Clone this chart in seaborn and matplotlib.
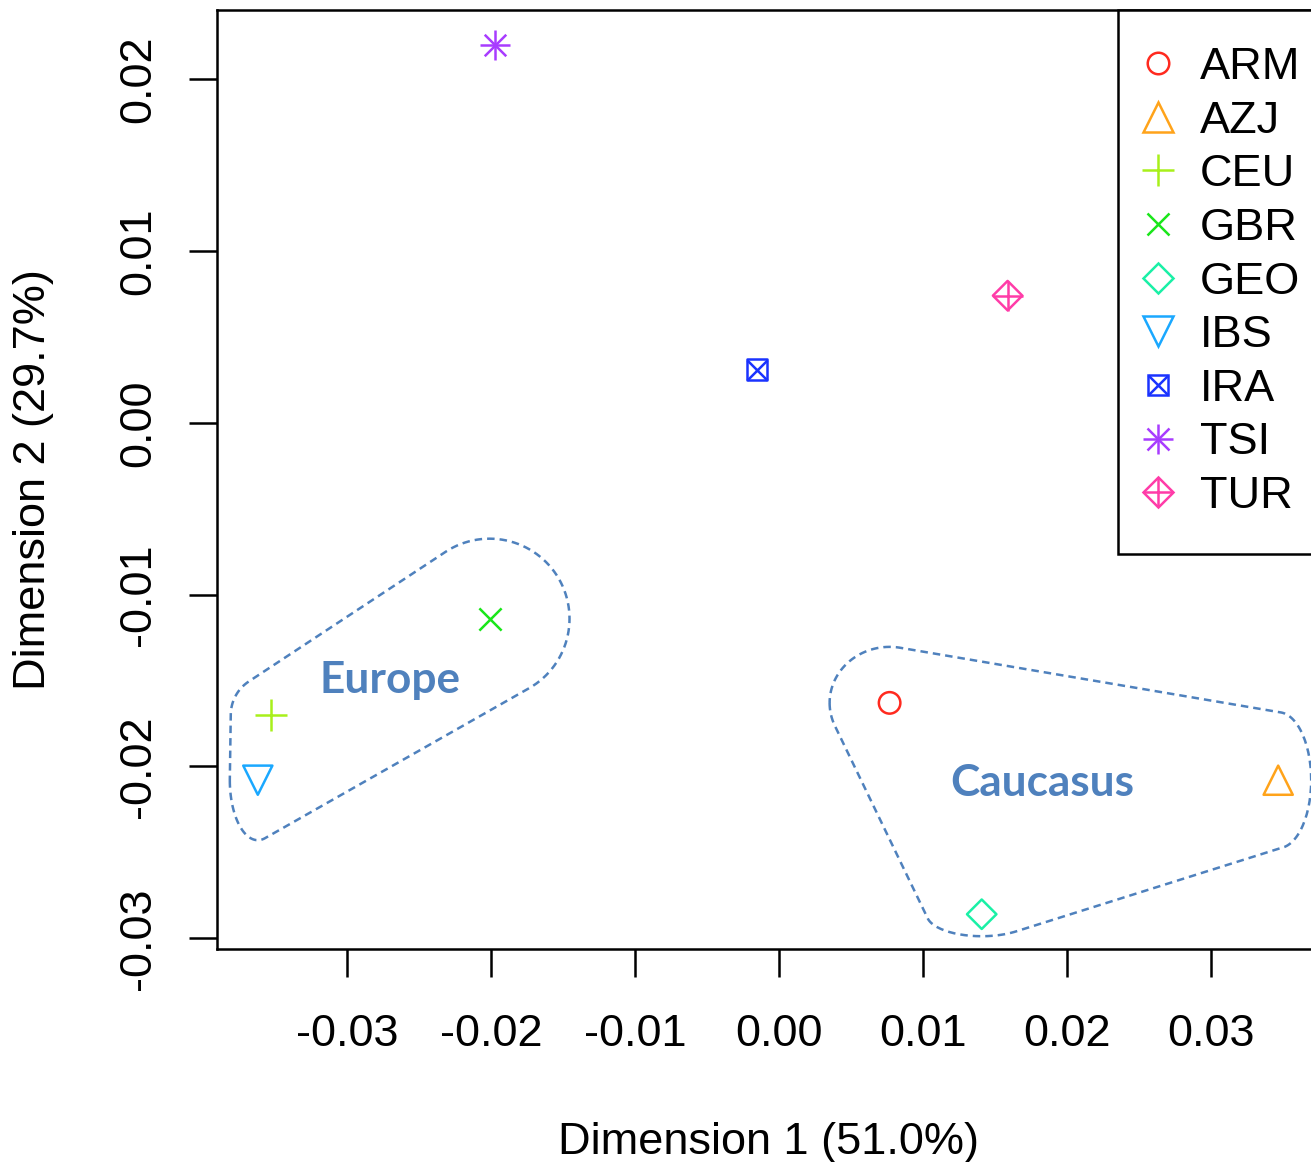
import numpy as np
import matplotlib
matplotlib.use("Agg")
import matplotlib.pyplot as plt
from matplotlib.lines import Line2D
import seaborn as sns

# MDS coordinates per population
populations = ["ARM", "AZJ", "CEU", "GBR", "GEO", "IBS", "IRA", "TSI", "TUR"]
dim1 = [0.0077, 0.0347, -0.0353, -0.0201, 0.0141, -0.0362, -0.0015, -0.0197, 0.0159]
dim2 = [-0.0163, -0.0208, -0.0170, -0.0114, -0.0286, -0.0208, 0.0031, 0.0220, 0.0074]
colors = ["#ff2a1f", "#ffa31a", "#a8f01a", "#1ae61a", "#1af0a6",
          "#1aa8ff", "#1a33ff", "#a83cff", "#ff3ca8"]

europe = ["CEU", "GBR", "IBS"]
caucasus = ["ARM", "AZJ", "GEO"]

# R pch 1..9 rebuilt from matplotlib markers (marker, size in pt)
glyphs = {
    "ARM": [("o", 15.5)],
    "AZJ": [("^", 21)],
    "CEU": [("+", 23)],
    "GBR": [("x", 16)],
    "GEO": [("D", 15)],
    "IBS": [("v", 21)],
    "IRA": [("s", 14.5), ("x", 14.5)],
    "TSI": [("+", 22), ("x", 15.5)],
    "TUR": [("D", 15), ("+", 21)],
}
line_art = {"+", "x"}

sns.set_style("white")
plt.rcParams["font.family"] = ["Liberation Sans", "DejaVu Sans"]
plt.rcParams["text.color"] = "black"
plt.rcParams["axes.labelcolor"] = "black"
FS = 32.5
LW = 1.8
hull_col = "#4f81bd"

W, H = 1311, 1162
fig = plt.figure(figsize=(W / 100, H / 100), dpi=100)
ax = fig.add_axes([217 / W, 213 / H, (1319 - 217) / W, (1152 - 213) / H])

for pop, x, y, c in zip(populations, dim1, dim2, colors):
    for m, ms in glyphs[pop]:
        if m in line_art:
            sns.scatterplot(x=[x], y=[y], marker=m, s=ms ** 2, color=c,
                            linewidth=LW, ax=ax, zorder=3)
        else:
            sns.scatterplot(x=[x], y=[y], marker=m, s=ms ** 2, color=c,
                            facecolor="none", edgecolor=c, linewidth=LW,
                            ax=ax, zorder=3)

# R-style 4% axis padding
xr = max(dim1) - min(dim1)
yr = max(dim2) - min(dim2)
ax.set_xlim(min(dim1) - 0.04 * xr, max(dim1) + 0.04 * xr)
ax.set_ylim(min(dim2) - 0.04 * yr, max(dim2) + 0.04 * yr)
ax.set_xticks([-0.03, -0.02, -0.01, 0.0, 0.01, 0.02, 0.03])
ax.set_yticks([-0.03, -0.02, -0.01, 0.0, 0.01, 0.02])
ax.set_xticklabels(["-0.03", "-0.02", "-0.01", "0.00", "0.01", "0.02", "0.03"])
ax.set_yticklabels(["-0.03", "-0.02", "-0.01", "0.00", "0.01", "0.02"])
ax.tick_params(axis="both", direction="out", length=20, width=LW,
               labelsize=FS, color="black", labelcolor="black",
               bottom=True, left=True, top=False, right=False)
ax.tick_params(axis="x", pad=27)
ax.tick_params(axis="y", pad=21.5, labelrotation=90)
for lab in ax.get_yticklabels():
    lab.set_va("center")
for sp in ax.spines.values():
    sp.set_visible(True)
    sp.set_color("black")
    sp.set_linewidth(LW)

ax.set_xlabel("Dimension 1 (51.0%)", fontsize=FS, color="black")
ax.set_ylabel("Dimension 2 (29.7%)", fontsize=FS, color="black")
ax.xaxis.set_label_coords(0.5, -0.184)
ax.yaxis.set_label_coords(-0.148, 0.5)


def hull_outline(names, radii, n=120):
    # rounded convex hull: ellipse (rx, ry in px) around each point
    idx = [populations.index(p) for p in names]
    pts = ax.transData.transform(np.column_stack([[dim1[i] for i in idx],
                                                  [dim2[i] for i in idx]]))
    t = np.linspace(0, 2 * np.pi, n, endpoint=False)
    ring = np.vstack([p + np.column_stack([rx * np.cos(t), ry * np.sin(t)])
                      for p, (rx, ry) in zip(pts, radii)])
    ring = sorted(map(tuple, ring))

    def cross(o, a, b):
        return (a[0] - o[0]) * (b[1] - o[1]) - (a[1] - o[1]) * (b[0] - o[0])

    lower, upper = [], []
    for p in ring:
        while len(lower) >= 2 and cross(lower[-2], lower[-1], p) <= 0:
            lower.pop()
        lower.append(p)
    for p in reversed(ring):
        while len(upper) >= 2 and cross(upper[-2], upper[-1], p) <= 0:
            upper.pop()
        upper.append(p)
    hull = lower[:-1] + upper[:-1]
    hull.append(hull[0])
    return ax.transData.inverted().transform(np.array(hull))


groups = [(europe, [(40, 40), (80, 80), (28, 60)]),
          (caucasus, [(60, 56), (33, 68), (55, 22)])]
for names, radii in groups:
    outline = hull_outline(names, radii)
    ax.plot(outline[:, 0], outline[:, 1], ls=(0, (3, 2)), lw=1.8,
            color=hull_col, zorder=2)

ax.text(-0.0270, -0.0157, "Europe", color=hull_col, fontsize=31.8,
        fontweight="bold", family="Lato", ha="center", va="baseline")
ax.text(0.0183, -0.0217, "Caucasus", color=hull_col, fontsize=31.8,
        fontweight="bold", family="Lato", ha="center", va="baseline")

handles = []
for pop, c in zip(populations, colors):
    parts = []
    for m, ms in glyphs[pop]:
        if m in line_art:
            parts.append(Line2D([], [], ls="none", marker=m, ms=ms, mew=LW, color=c))
        else:
            parts.append(Line2D([], [], ls="none", marker=m, ms=ms, mew=LW,
                                mec=c, mfc="none"))
    handles.append(tuple(parts))

leg = ax.legend(handles, populations, loc="upper left",
                bbox_to_anchor=((1118 - 217) / (1319 - 217), 1.0),
                borderaxespad=0, fontsize=FS, frameon=True, fancybox=False,
                framealpha=1, edgecolor="black", borderpad=0.82,
                handlelength=0.13, handletextpad=0.865, labelspacing=0.28)
leg.get_frame().set_linewidth(LW)
for txt in leg.get_texts():
    txt.set_color("black")

fig.savefig("out.png", dpi=100)
